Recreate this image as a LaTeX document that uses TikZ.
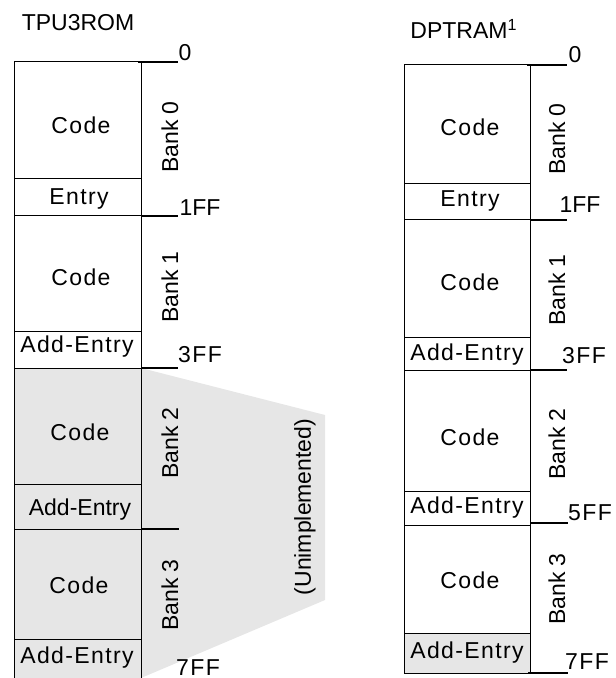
\documentclass[tikz,border=0pt]{standalone}
\usepackage{fontspec}
\setmainfont{Liberation Sans}
\newfontfamily\spaced[LetterSpace=6]{Liberation Sans}
\definecolor{unimplgray}{HTML}{E6E6E6}
\begin{document}
\begin{tikzpicture}[x=0.5pt,y=-0.5pt,
  txt/.style={inner sep=0pt,font=\fontsize{11.5}{13.8}\selectfont},
  stxt/.style={inner sep=0pt,font=\fontsize{11.5}{13.8}\selectfont\spaced},
  banklbl/.style={txt,rotate=90},
  box/.style={draw=black,line width=0.5pt},
  tick/.style={draw=black,line width=0.7pt}]
\useasboundingbox (0,0) rectangle (615,678);
% shaded unimplemented region
\fill[unimplgray] (141,368) -- (325,415) -- (325,600) -- (141,678) -- cycle;
\fill[unimplgray] (14,368) rectangle (141,678);
\fill[unimplgray] (404,633) rectangle (530,673);
% left column boxes
\draw[box] (14,62) rectangle (141,179);
\draw[box] (14,179) rectangle (141,216);
\draw[box] (14,216) rectangle (141,331);
\draw[box] (14,331) rectangle (141,368);
\draw[box] (14,368) rectangle (141,484);
\draw[box] (14,484) rectangle (141,529);
\draw[box] (14,529) rectangle (141,639);
\draw[box] (14,639) rectangle (141,678);
% right column boxes
\draw[box] (404,65) rectangle (530,184);
\draw[box] (404,184) rectangle (530,220);
\draw[box] (404,220) rectangle (530,337);
\draw[box] (404,337) rectangle (530,370);
\draw[box] (404,370) rectangle (530,491);
\draw[box] (404,491) rectangle (530,525);
\draw[box] (404,525) rectangle (530,633);
\draw[box] (404,633) rectangle (530,673);
% ticks left
\draw[tick] (138,62) -- (178,62);
\draw[tick] (141,216) -- (178,216);
\draw[tick] (141,368) -- (178,368);
\draw[tick] (141,529) -- (179,529);
% ticks right
\draw[tick] (527,65) -- (567,65);
\draw[tick] (530,220) -- (567,220);
\draw[tick] (530,370) -- (567,370);
\draw[tick] (530,523) -- (568,523);
\draw[tick] (528,673) -- (568,673);
% titles
\node[txt] (t1) at (78,23) {TPU3ROM};
\node[txt,anchor=west] (t2) at (410,29) {DPTRAM\textsuperscript{1}};
% left texts
\node[stxt] (l1) at (81,125) {Code};
\node[stxt] (l2) at (79,199) {Entry};
\node[stxt] (l3) at (81,277) {Code};
\node[stxt] (l4) at (77,347) {Add-Entry};
\node[stxt] (l5) at (80,432) {Code};
\node[txt] (l6) at (80,510) {Add-Entry};
\node[stxt] (l7) at (79,585) {Code};
\node[stxt] (l8) at (77,658) {Add-Entry};
% right texts
\node[stxt] (r1) at (470,127) {Code};
\node[stxt] (r2) at (470,201) {Entry};
\node[stxt] (r3) at (470,282) {Code};
\node[stxt] (r4) at (467,355) {Add-Entry};
\node[stxt] (r5) at (470,437) {Code};
\node[stxt] (r6) at (467,508) {Add-Entry};
\node[stxt] (r7) at (470,580) {Code};
\node[stxt] (r8) at (467,653) {Add-Entry};
% bank labels
\node[banklbl] (lb0) at (170,137) {Bank 0};
\node[banklbl] (lb1) at (170,287) {Bank 1};
\node[banklbl] (lb2) at (170,443) {Bank 2};
\node[banklbl] (lb3) at (170,595) {Bank 3};
\node[banklbl] (rb0) at (557,139) {Bank 0};
\node[banklbl] (rb1) at (557,290) {Bank 1};
\node[banklbl] (rb2) at (557,444) {Bank 2};
\node[banklbl] (rb3) at (557,589) {Bank 3};
\node[banklbl] (un) at (305,507) {(Unimplemented)};
% addresses
\node[txt] (a0) at (185,53) {0};
\node[txt] (a1) at (200,208) {1FF};
\node[stxt] (a3) at (200,355) {3FF};
\node[stxt] (a7) at (198,668) {7FF};
\node[txt] (b0) at (575,55) {0};
\node[txt] (b1) at (580,205) {1FF};
\node[stxt] (b3) at (584,356) {3FF};
\node[stxt] (b5) at (590,513) {5FF};
\node[stxt] (b7) at (587,662) {7FF};
\end{tikzpicture}
\end{document}
